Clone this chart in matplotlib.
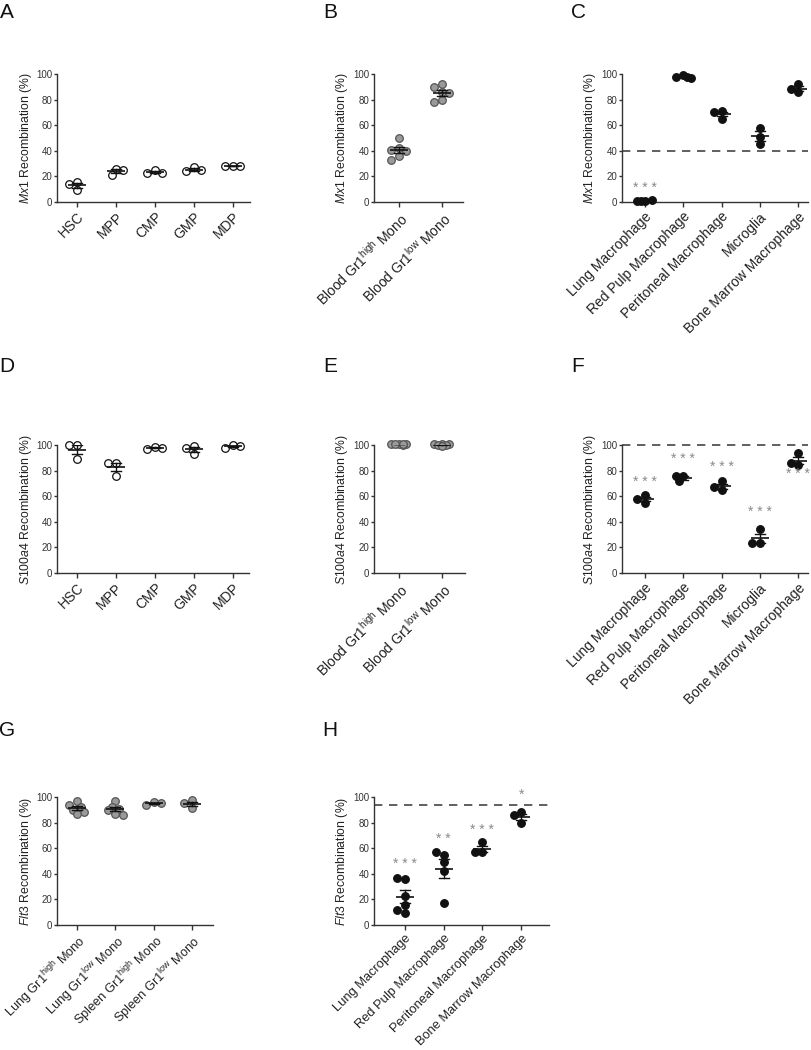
import numpy as np
import matplotlib
matplotlib.use('Agg')
import matplotlib.pyplot as plt
from matplotlib.transforms import ScaledTranslation

plt.rcParams['font.family'] = ['Liberation Sans', 'DejaVu Sans']
plt.rcParams['mathtext.fontset'] = 'custom'
plt.rcParams['mathtext.rm'] = 'Liberation Sans'
plt.rcParams['mathtext.it'] = 'Liberation Sans:italic'

# category names
prog_cells = ['HSC', 'MPP', 'CMP', 'GMP', 'MDP']
blood_mono = [r'Blood Gr1$^{\mathrm{high}}$ Mono', r'Blood Gr1$^{\mathrm{low}}$ Mono']
macs5 = ['Lung Macrophage', 'Red Pulp Macrophage', 'Peritoneal Macrophage',
         'Microglia', 'Bone Marrow Macrophage']
tissue_mono = [r'Lung Gr1$^{\mathrm{high}}$ Mono', r'Lung Gr1$^{\mathrm{low}}$ Mono',
               r'Spleen Gr1$^{\mathrm{high}}$ Mono', r'Spleen Gr1$^{\mathrm{low}}$ Mono']
macs4 = ['Lung Macrophage', 'Red Pulp Macrophage', 'Peritoneal Macrophage',
         'Bone Marrow Macrophage']

# Mx1 recombination (%)
mx1_prog = [[16, 9, 14], [26, 21, 25], [25, 23, 23], [27, 24, 25], [28.5, 28, 28.5]]
mx1_mono = [[50, 42, 41, 40, 36, 33], [92, 90, 86, 85, 80, 78]]
mx1_mac = [[1, 0.5, 1.5, 1], [99, 98, 97, 98], [71, 65, 70], [58, 45, 51], [92, 86, 88]]
mx1_ref = 40
mx1_stars = ['* * *', '', '', '', '']
mx1_stars_y = [11, 0, 0, 0, 0]

# S100a4 recombination (%)
s100_prog = [[100, 89, 100], [86, 76, 86], [98.5, 97, 98], [99, 93, 97.5], [100, 98, 99]]
s100_mono = [[101, 101, 100.5, 101, 100, 101], [101, 100.5, 101, 100, 100, 99.5]]
s100_mac = [[61, 55, 58], [76, 71.5, 76], [71.5, 64.5, 67.5], [34, 23.5, 23.5], [93.5, 84, 86]]
s100_ref = 100
s100_stars = ['* * *', '* * *', '* * *', '* * *', '* * *']
s100_stars_y = [71, 89, 83, 48, 77.5]

# Flt3 recombination (%)
flt3_mono = [[97, 94, 92, 90, 88, 86.5], [96.5, 92, 91, 89.5, 87, 86],
             [96, 94, 95], [97.5, 95, 91.5]]
flt3_mac = [[36, 37, 23, 16, 12, 9], [55, 57, 49, 42, 17], [64.5, 57, 57], [80, 88, 86]]
flt3_ref = 94
flt3_stars = ['* * *', '* *', '* * *', '*']
flt3_stars_y = [48, 67.5, 74.5, 102]

W, H = 811, 1050
fig = plt.figure(figsize=(W / 100, H / 100), dpi=100)

styles = {
    'open': dict(facecolor='white', edgecolor='#111111'),
    'gray': dict(facecolor='#9a9a9a', edgecolor='#555555'),
    'black': dict(facecolor='#111111', edgecolor='#111111'),
}


def swarm(vals, px_cat, px_unit, d=7.5, steps=2):
    # nudge overlapping points sideways, but keep the cluster narrow
    placed = []
    offs = []
    cands = [0]
    for i in range(1, steps + 1):
        cands += [-i, i]
    for v in vals:
        yp = v * px_unit
        best, best_d = 0, -1
        for c in cands:
            xp = c * d * 0.5
            dmin = min([np.hypot(xp - a, yp - b) for a, b in placed] + [1e9])
            if dmin >= d * 0.9:
                best = xp
                break
            if dmin > best_d:
                best, best_d = xp, dmin
        placed.append((best, yp))
        offs.append(best / px_cat)
    return np.array(offs)


def panel(left, right, top, bottom, names, groups, style, gene, xlim,
          ref=None, stars=None, stars_y=None, xfs=10):
    ax = fig.add_axes([left / W, 1 - bottom / H, (right - left) / W, (bottom - top) / H])
    ax.set_xlim(*xlim)
    ax.set_ylim(0, 100)
    px_cat = (right - left) / (xlim[1] - xlim[0])
    px_unit = (bottom - top) / 100
    if ref is not None:
        ax.axhline(ref, color='#444444', ls=(0, (5, 4)), lw=1.2, zorder=1, clip_on=False)
    for i, vals in enumerate(groups):
        vals = np.array(vals, dtype=float)
        xs = i + swarm(vals, px_cat, px_unit)
        ax.scatter(xs, vals, s=30, linewidths=0.9, zorder=3, clip_on=False, **styles[style])
        m = vals.mean()
        sem = vals.std(ddof=1) / np.sqrt(len(vals))
        hw = 9 / px_cat
        cw = 5 / px_cat
        lc = '#111111'
        ax.plot([i - hw, i + hw], [m, m], color=lc, lw=1.2, zorder=4, solid_capstyle='butt')
        ax.plot([i, i], [m - sem, m + sem], color=lc, lw=1.0, zorder=4)
        ax.plot([i - cw, i + cw], [m + sem, m + sem], color=lc, lw=1.0, zorder=4)
        ax.plot([i - cw, i + cw], [m - sem, m - sem], color=lc, lw=1.0, zorder=4)
        if stars is not None and stars[i]:
            ax.text(i, stars_y[i], stars[i], ha='center', va='center', fontsize=10,
                    color='#8a8a8a', clip_on=False)
    for s in ['top', 'right']:
        ax.spines[s].set_visible(False)
    for s in ['left', 'bottom']:
        ax.spines[s].set_color('#333333')
        ax.spines[s].set_linewidth(1.0)
    ax.set_yticks([0, 20, 40, 60, 80, 100])
    ax.set_xticks(range(len(names)))
    ax.set_xticklabels(names, rotation=45, ha='right', rotation_mode='anchor',
                       fontsize=xfs, color='#222222')
    ax.tick_params(axis='y', labelsize=7, length=2.5, width=1.0, color='#333333',
                   labelcolor='#333333', pad=1)
    ax.tick_params(axis='x', length=3.5, width=1.0, color='#333333', pad=2)
    ax.set_ylabel(r'$\mathit{' + gene + '}$ Recombination (%)', fontsize=8.8, color='#222222')
    ax.yaxis.set_label_coords(0, 0.5, transform=ax.transAxes +
                              ScaledTranslation(-0.235, 0, fig.dpi_scale_trans))
    return ax


# row 1: Mx1
panel(57, 250, 74, 202, prog_cells, mx1_prog, 'open', 'Mx1', (-0.51, 4.44))
panel(374, 463, 74, 202, blood_mono, mx1_mono, 'gray', 'Mx1', (-0.58, 1.49))
panel(622, 808, 74, 202, macs5, mx1_mac, 'black', 'Mx1', (-0.6, 4.26),
      ref=mx1_ref, stars=mx1_stars, stars_y=mx1_stars_y)

# row 2: S100a4
panel(57, 249, 445, 573, prog_cells, s100_prog, 'open', 'S100a4', (-0.51, 4.42))
panel(374, 465, 445, 573, blood_mono, s100_mono, 'gray', 'S100a4', (-0.58, 1.54))
panel(622, 808, 445, 573, macs5, s100_mac, 'black', 'S100a4', (-0.6, 4.26),
      ref=s100_ref, stars=s100_stars, stars_y=s100_stars_y)

# row 3: Flt3
panel(57, 213, 797, 925, tissue_mono, flt3_mono, 'gray', 'Flt3', (-0.52, 3.55), xfs=9.2)
panel(374, 549, 797, 925, macs4, flt3_mac, 'black', 'Flt3', (-0.8, 3.72),
      ref=flt3_ref, stars=flt3_stars, stars_y=flt3_stars_y, xfs=9.3)

letters = ['A', 'B', 'C', 'D', 'E', 'F', 'G', 'H']
letter_x = [7, 330, 578, 7, 330, 578, 7, 330]
letter_y = [12, 12, 12, 367, 367, 367, 730, 730]
for t, x, y in zip(letters, letter_x, letter_y):
    fig.text(x / W, 1 - y / H, t, ha='center', va='center', fontsize=15, color='#111111')

fig.savefig('out.png', dpi=100)
